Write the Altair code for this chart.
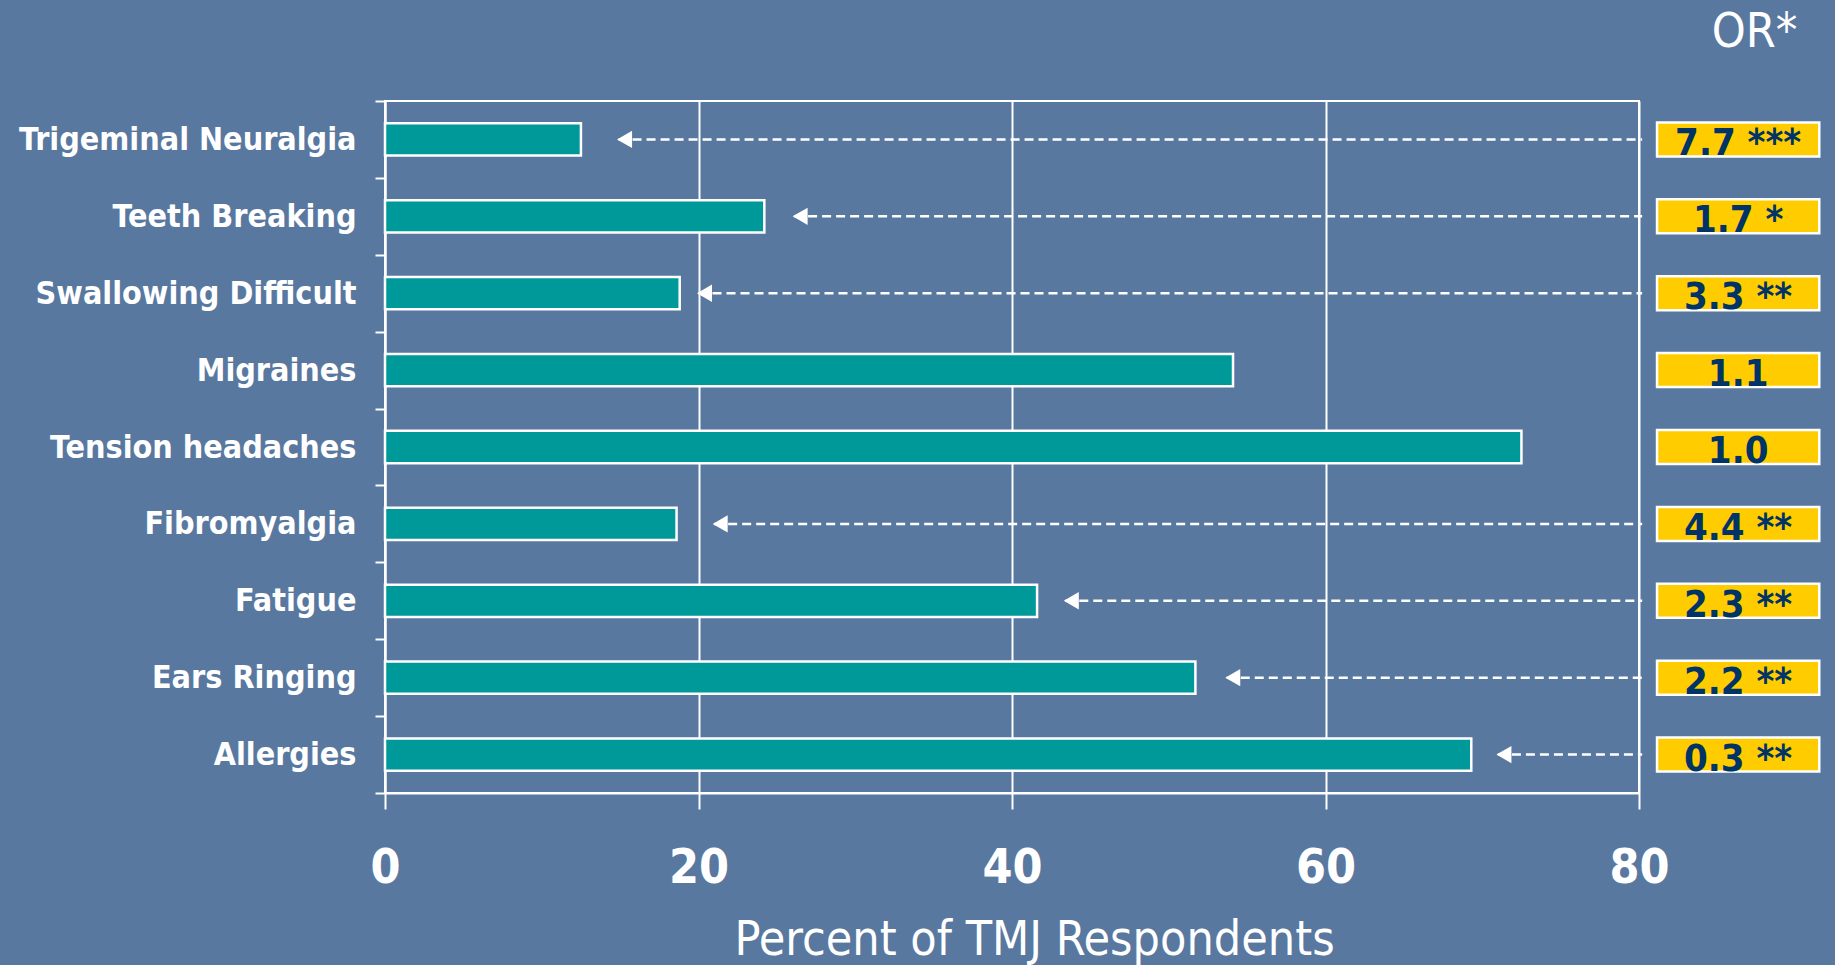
import altair as alt
import pandas as pd

# Symptoms reported by TMJ respondents (top to bottom)
symptoms = [
    "Trigeminal Neuralgia",
    "Teeth Breaking",
    "Swallowing Difficult",
    "Migraines",
    "Tension headaches",
    "Fibromyalgia",
    "Fatigue",
    "Ears Ringing",
    "Allergies",
]
# Percent of TMJ respondents reporting each symptom
percent = [12.5, 24.2, 18.8, 54.1, 72.5, 18.6, 41.6, 51.7, 69.3]
# Odds ratios and their significance stars
odds_ratio = [7.7, 1.7, 3.3, 1.1, 1.0, 4.4, 2.3, 2.2, 0.3]
stars = ["***", "*", "**", "", "", "**", "**", "**", "**"]
# Where the dashed pointer from each odds-ratio box stops (None = no pointer)
pointer_tip = [14.9, 26.1, 20.0, None, None, 21.0, 43.4, 53.7, 71.0]
x_ticks = [0, 20, 40, 60, 80]

df = pd.DataFrame({
    "symptom": symptoms,
    "percent": percent,
    "or_label": [f"{v:.1f} {s}".strip() for v, s in zip(odds_ratio, stars)],
    "tip": pointer_tip,
})
header = pd.DataFrame({"label": ["OR*"]})

BG = "#5878a0"
TEAL = "#009999"
GOLD = "#ffcc00"
NAVY = "#003366"
FONT = "DejaVu Sans Condensed, DejaVu Sans, sans-serif"

# the odds-ratio column sits to the right of the 0-80 scale
BOX_X0, BOX_X1 = 81.15, 91.5
LINE_END = 80.2
HEADER_X = 90.1

x_scale = alt.Scale(domain=[0, 80], nice=False, zero=True)
y_scale = alt.Scale(domain=symptoms, paddingInner=0, paddingOuter=0)

y_enc = alt.Y(
    "symptom:N",
    scale=y_scale,
    sort=symptoms,
    axis=alt.Axis(
        title=None,
        tickBand="extent",
        grid=False,
        domainColor="white",
        domainWidth=2,
        tickColor="white",
        tickWidth=2,
        tickSize=10,
        labelColor="white",
        labelFont=FONT,
        labelFontWeight="bold",
        labelFontSize=32,
        labelPadding=19,
        labelLimit=500,
    ),
)

x_enc = alt.X(
    "percent:Q",
    scale=x_scale,
    axis=alt.Axis(
        values=x_ticks,
        title="Percent of TMJ Respondents",
        titleFont=FONT,
        titleFontWeight="normal",
        titleFontSize=48,
        titleColor="white",
        titlePadding=24,
        titleX=649,
        grid=True,
        gridColor="white",
        gridWidth=2,
        gridOpacity=1,
        domainColor="white",
        domainWidth=2,
        tickColor="white",
        tickWidth=2,
        tickSize=16,
        labelColor="white",
        labelFont=FONT,
        labelFontWeight="bold",
        labelFontSize=48,
        labelPadding=35,
        labelFlush=False,
    ),
)

y_plain = alt.Y("symptom:N", scale=y_scale, sort=symptoms)

base = alt.Chart(df)

bars = base.mark_bar(
    height={"band": 0.42}, fill=TEAL, stroke="white", strokeWidth=2.5
).encode(x=x_enc, y=y_enc)

pointers = base.transform_filter("datum.tip != null").mark_rule(
    color="white", strokeWidth=2.5, strokeDash=[9, 5]
).encode(
    x=alt.X("tip:Q", scale=x_scale),
    x2=alt.datum(LINE_END),
    y=y_plain,
)

heads = base.transform_filter("datum.tip != null").mark_point(
    shape="triangle-left", filled=True, fill="white", stroke=None,
    size=300, opacity=1, xOffset=6,
).encode(
    x=alt.X("tip:Q", scale=x_scale),
    y=y_plain,
)

boxes = base.mark_bar(
    height=34, fill=GOLD, stroke="white", strokeWidth=2.5
).encode(
    x=alt.datum(BOX_X0, scale=x_scale),
    x2=alt.datum(BOX_X1),
    y=y_plain,
)

or_text = base.mark_text(
    font=FONT, fontWeight="bold", fontSize=38, color=NAVY,
    align="center", baseline="alphabetic", dy=16,
).encode(
    x=alt.datum((BOX_X0 + BOX_X1) / 2, scale=x_scale),
    y=y_plain,
    text="or_label:N",
)

# column header above the odds-ratio boxes
or_header = alt.Chart(header).mark_text(
    font=FONT, fontWeight="normal", fontSize=48, color="white",
    align="right", baseline="alphabetic",
).encode(
    x=alt.datum(HEADER_X, scale=x_scale),
    y=alt.value(-54),
    text="label:N",
)

chart = (
    alt.layer(bars, pointers, heads, boxes, or_text, or_header)
    .properties(
        width=1254,
        height=692,
        background=BG,
        padding={"left": 385, "top": 101, "right": 196, "bottom": 172},
        autosize=alt.AutoSizeParams(type="none"),
    )
    .configure_view(stroke="white", strokeWidth=2)
)

chart.save("out.html", embed_options={"renderer": "svg", "actions": False})
